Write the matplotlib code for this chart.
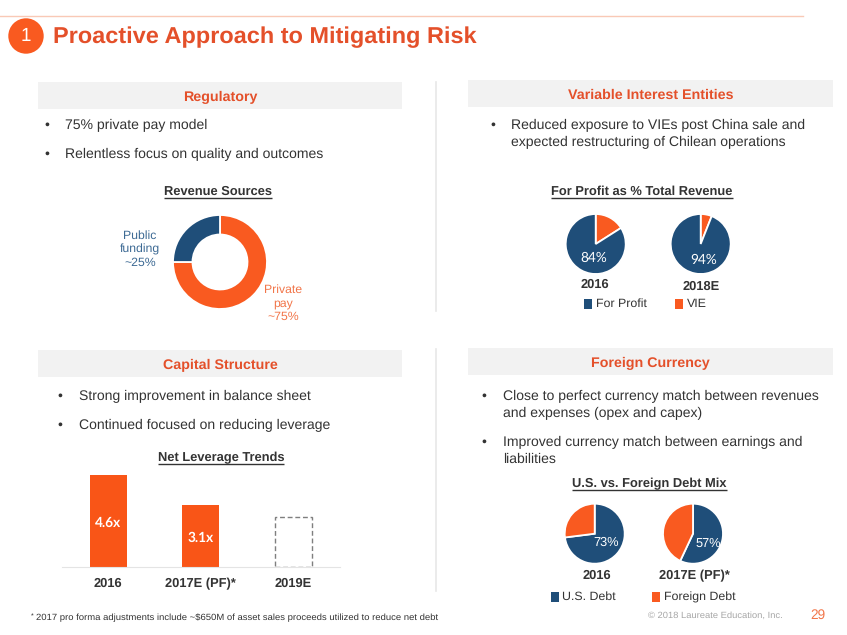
import matplotlib
matplotlib.use("Agg")
import matplotlib.pyplot as plt
from matplotlib.patches import Rectangle, Circle

plt.rcParams['font.family'] = ['Liberation Sans', 'DejaVu Sans']
plt.rcParams['text.hinting'] = 'no_hinting'
plt.rcParams['text.hinting_factor'] = 8

W, H = 847, 635
ORANGE = '#F95A20'
TITLE = '#E4502A'
BLUE = '#1F4E79'
DARK = '#333333'

revenue_labels = ['Private pay', 'Public funding']
revenue_values = [75, 25]
profit_2016 = [16, 84]
profit_2018 = [6, 94]
debt_2016 = [73, 27]
debt_2017 = [57, 43]
lev_cats = ['2016', '2017E (PF)*', '2019E']
lev_vals = [4.6, 3.1]
lev_labels = ['4.6x', '3.1x']
lev_placeholder = 2.5

fig = plt.figure(figsize=(W / 100, H / 100), dpi=100, facecolor='white')

def px_axes(x0, y0, x1, y1, **kw):
    return fig.add_axes([x0 / W, 1 - y1 / H, (x1 - x0) / W, (y1 - y0) / H], **kw)

ov = px_axes(0, 0, W, H)
ov.set_xlim(0, W); ov.set_ylim(H, 0); ov.axis('off')
ov.set_zorder(10); ov.patch.set_alpha(0)

def T(x, y, s, size=10.1, color=DARK, weight='normal', ha='left', va='center', **kw):
    return ov.text(x, y + 1, s, fontsize=size, color=color, fontweight=weight, ha=ha, va=va, **kw)

def underlined(x, y, s, size=9.3):
    t = T(x, y, s, size=size, weight='bold', ha='center')
    bb = t.get_window_extent(fig.canvas.get_renderer())
    ov.plot([bb.x0, bb.x1], [y + 7.2, y + 7.2], color=DARK, lw=1.0, solid_capstyle='butt')

# Header elements
ov.plot([0, 803], [15.5, 15.5], color='#F9C9B6', lw=1)
ov.add_patch(Circle((26, 36), 17.7, color=ORANGE, lw=0))
T(26, 35.5, '1', size=13.5, color='white', ha='center')
T(53, 36, 'Proactive Approach to Mitigating Risk', size=16.9, color=TITLE, weight='bold')

# Dividers
for y0, y1 in [(82, 311), (349, 591)]:
    ov.plot([435.5, 435.5], [y0, y1], color='#E8E8E8', lw=1.2)

# Section header bands
for x0, y0, x1, y1, s in [(38, 82, 402, 109, 'Regulatory'),
                          (468, 80, 833, 107, 'Variable Interest Entities'),
                          (38, 350, 402, 377, 'Capital Structure'),
                          (468, 348, 833, 375, 'Foreign Currency')]:
    ov.add_patch(Rectangle((x0, y0), x1 - x0, y1 - y0, color='#F2F2F2', lw=0, zorder=0))
    T((x0 + x1) / 2, (y0 + y1) / 2 + 0.5, s, size=10.25, color=TITLE, weight='bold', ha='center')

# Bullets
def bullet(xb, xt, y, lines):
    T(xb, y, '•', ha='center')
    for i, l in enumerate(lines):
        T(xt, y + i * 17, l)

bullet(46.5, 65, 124.5, ['75% private pay model'])
bullet(46.5, 65, 153.5, ['Relentless focus on quality and outcomes'])
bullet(492.5, 511, 124.5, ['Reduced exposure to VIEs post China sale and',
                           'expected restructuring of Chilean operations'])
bullet(60, 79, 395.5, ['Strong improvement in balance sheet'])
bullet(60, 79, 424.5, ['Continued focused on reducing leverage'])
bullet(484, 503, 395.5, ['Close to perfect currency match between revenues',
                         'and expenses (opex and capex)'])
bullet(484, 503, 441.5, ['Improved currency match between earnings and',
                         'liabilities'])

# Chart titles
underlined(218, 191, 'Revenue Sources')
underlined(642, 191, 'For Profit as % Total Revenue')
underlined(221, 457, 'Net Leverage Trends')
underlined(649.5, 483, 'U.S. vs. Foreign Debt Mix')

# Pies
def pie(cx, cy, r, vals, colors, **kw):
    ax = px_axes(cx - r - 1, cy - r - 1, cx + r + 1, cy + r + 1)
    ax.pie(vals, colors=colors, startangle=90, counterclock=False, radius=r / (r + 1),
           wedgeprops=dict(edgecolor='white', linewidth=1.3, **kw))
    ax.set_xlim(-1, 1); ax.set_ylim(-1, 1)
    return ax

pie(220, 262, 47, revenue_values, [ORANGE, BLUE], width=19.5 / 48)
T(140, 248.3, 'Public\nfunding\n~25%', size=8.8, color='#3D6A94', ha='center', linespacing=1.24)
T(283, 302.3, 'Private\npay\n~75%', size=8.8, color='#F2764A', ha='center', linespacing=1.24)

pie(595.7, 244, 30, profit_2016, [ORANGE, BLUE])
pie(700.7, 244, 30, profit_2018, [ORANGE, BLUE])
T(594, 257, '84%', color='white', size=9.8, ha='center', family='Lato')
T(703.5, 258.5, '94%', color='white', size=9.8, ha='center', family='Lato')
T(594.5, 283.5, '2016', weight='bold', size=9.3, ha='center')
T(701, 285.5, '2018E', weight='bold', size=9.3, ha='center')
ov.add_patch(Rectangle((584, 298.5), 8.3, 10, color=BLUE, lw=0))
T(595.5, 303, 'For Profit', size=8.9)
ov.add_patch(Rectangle((675, 298.5), 8.3, 10, color=ORANGE, lw=0))
T(687, 303, 'VIE', size=8.9)

pie(594.7, 533.7, 30, debt_2016, [BLUE, ORANGE])
pie(693, 533.7, 30, debt_2017, [BLUE, ORANGE])
T(606, 542, '73%', color='white', size=9.2, ha='center')
T(708, 543, '57%', color='white', size=9.2, ha='center')
T(596.5, 575, '2016', weight='bold', size=9.3, ha='center')
T(694, 575, '2017E (PF)*', weight='bold', size=9.3, ha='center')
ov.add_patch(Rectangle((551, 591.5), 8.3, 10, color=BLUE, lw=0))
T(562, 596, 'U.S. Debt', size=8.9)
ov.add_patch(Rectangle((652, 591.5), 8.3, 10, color=ORANGE, lw=0))
T(664, 596, 'Foreign Debt', size=8.9)

# Bars
bx = px_axes(62, 470, 339.5, 566.7)
bars = bx.bar([0, 1], lev_vals, width=0.4, color='#F95517')
bx.bar([2], [lev_placeholder], width=0.4, facecolor='none', edgecolor='#7F7F7F',
       linewidth=1, linestyle=(0, (3.5, 2)))
bx.set_xlim(-0.5, 2.5)
bx.set_ylim(0, 96.7 / 19.87)
bx.patch.set_alpha(0)
for s in ['top', 'left', 'right']:
    bx.spines[s].set_visible(False)
bx.spines['bottom'].set_color('#E4E4E4')
bx.set_yticks([])
bx.set_xticks(range(3), lev_cats, fontweight='bold', fontsize=9.3, color=DARK)
bx.tick_params(axis='x', length=0, pad=8)
for i, (v, l) in enumerate(zip(lev_vals, lev_labels)):
    bx.text(i, v / 2 - 0.09, l, color='white', fontweight='bold', fontsize=9.8,
            ha='center', va='center', family='Lato')

# Footer
T(31, 616, '*', size=5)
T(35.5, 616.5, '2017 pro forma adjustments include ~$650M of asset sales proceeds utilized to reduce net debt', size=6.8)
T(782.5, 615, '© 2018 Laureate Education, Inc.', size=6.75, color='#A6A6A6', ha='right')
T(818, 614, '29', size=9.8, color='#F2764A', ha='center')

fig.savefig('out.png', dpi=100, facecolor='white')
